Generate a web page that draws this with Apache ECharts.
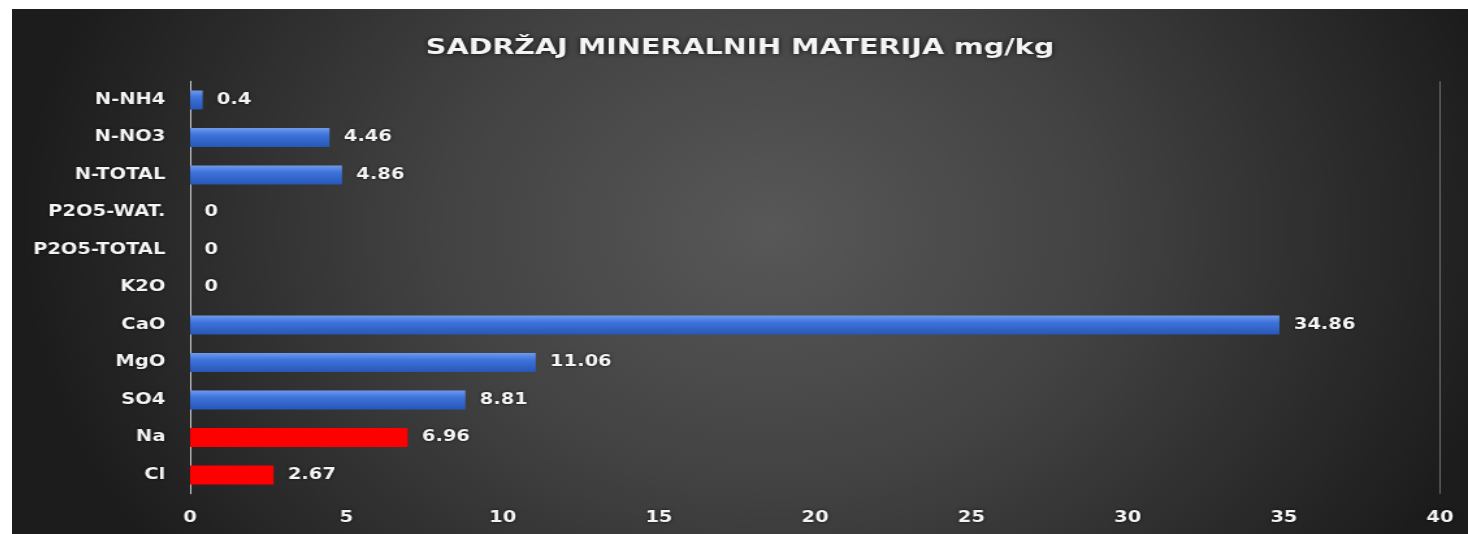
<!DOCTYPE html>
<html>
<head>
<meta charset="utf-8">
<title>Sadržaj mineralnih materija</title>
<script src="https://cdn.jsdelivr.net/npm/echarts@6/dist/echarts.min.js"></script>
<style>
  html, body { margin: 0; padding: 0; background: #ffffff; width: 1468px; height: 534px; overflow: hidden; }
  /* chart is laid out narrow and widened horizontally, giving the broad lettering */
  #chart {
    position: absolute; left: 12px; top: 9px;
    width: 1120px; height: 525px;
    transform: scaleX(1.3); transform-origin: 0 0;
  }
</style>
</head>
<body>
<div id="chart"></div>
<script>
// categories, top to bottom
const categories = ['N-NH4', 'N-NO3', 'N-TOTAL', 'P2O5-WAT.', 'P2O5-TOTAL', 'K2O', 'CaO', 'MgO', 'SO4', 'Na', 'Cl'];
// content in mg/kg
const values = [0.4, 4.46, 4.86, 0, 0, 0, 34.86, 11.06, 8.81, 6.96, 2.67];
// categories drawn in red
const highlighted = ['Na', 'Cl'];
// value axis ticks
const axisMin = 0;
const axisMax = 40;
const axisStep = 5;
const titleText = 'SADRŽAJ MINERALNIH MATERIJA mg/kg';

const FONT = "'DejaVu Sans', 'Noto Sans', sans-serif";
const TEXT = '#f4f4f4';

const blueFill = new echarts.graphic.LinearGradient(0, 0, 0, 1, [
  { offset: 0, color: '#6f9bee' },
  { offset: 0.35, color: '#3f74dc' },
  { offset: 1, color: '#2757b8' }
]);

const tickCount = Math.round((axisMax - axisMin) / axisStep) + 1;
const gridColors = [];
for (let i = 0; i < tickCount; i++) {
  gridColors.push(i === tickCount - 1 ? 'rgba(200,200,200,0.45)' : 'rgba(0,0,0,0)');
}

const labelText = {
  fontFamily: FONT, fontSize: 15, fontWeight: 'bold', color: TEXT,
  textShadowColor: 'rgba(0,0,0,0.85)', textShadowBlur: 3
};

const chart = echarts.init(document.getElementById('chart'), null, { renderer: 'canvas' });
chart.setOption({
  animation: false,
  backgroundColor: {
    type: 'radial', x: 0.52, y: 0.42, r: 1.1,
    colorStops: [
      { offset: 0, color: '#585858' },
      { offset: 0.45, color: '#424242' },
      { offset: 1, color: '#1c1c1c' }
    ]
  },
  title: {
    text: titleText,
    left: 'center',
    top: 23,
    textStyle: {
      fontFamily: FONT, fontSize: 22, fontWeight: 'bold', color: TEXT,
      textShadowColor: 'rgba(0,0,0,0.85)', textShadowBlur: 4
    }
  },
  grid: { left: 137, right: 21.5, top: 72.25, bottom: 40.25 },
  xAxis: {
    type: 'value',
    min: axisMin, max: axisMax, interval: axisStep,
    axisLine: { show: false },
    axisTick: { show: false },
    axisLabel: Object.assign({ margin: 17 }, labelText),
    splitLine: { show: true, lineStyle: { color: gridColors, width: 1 } }
  },
  yAxis: {
    type: 'category',
    data: categories,
    inverse: true,
    axisLine: { show: true, lineStyle: { color: '#d0d0d0', width: 1 } },
    axisTick: { show: false },
    axisLabel: Object.assign({ margin: 19 }, labelText)
  },
  series: [{
    type: 'bar',
    data: values,
    barWidth: 19,
    itemStyle: {
      color: function (p) {
        return highlighted.indexOf(p.name) >= 0 ? '#ff0000' : blueFill;
      }
    },
    label: Object.assign({ show: true, position: 'right', distance: 11 }, labelText)
  }]
});
</script>
</body>
</html>
